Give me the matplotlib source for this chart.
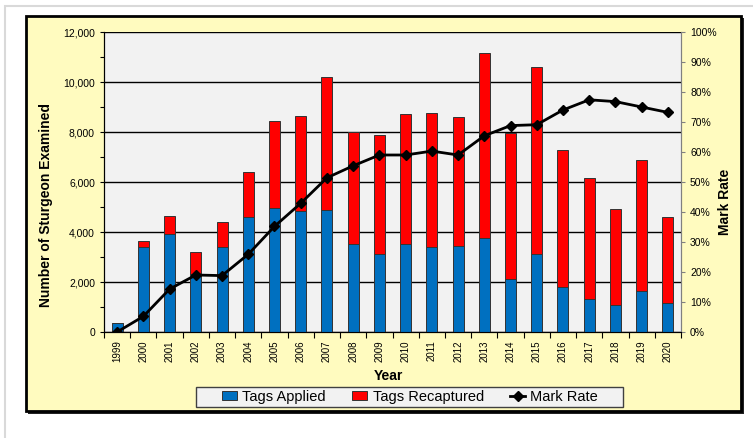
import numpy as np
import matplotlib.pyplot as plt
from matplotlib.patches import Rectangle, Patch
from matplotlib.lines import Line2D
from matplotlib.ticker import FuncFormatter, MultipleLocator

plt.rcParams['font.family'] = ['Liberation Sans', 'DejaVu Sans']

years = [str(y) for y in range(1999, 2021)]
tags_applied = [360, 3410, 3910, 2340, 3390, 4590, 4950, 4840, 4880, 3510, 3130,
                3510, 3400, 3450, 3750, 2130, 3110, 1790, 1310, 1070, 1640, 1160]
total_examined = [360, 3640, 4640, 3190, 4390, 6390, 8430, 8640, 10190, 8010, 7870,
                  8710, 8750, 8590, 11170, 7970, 10590, 7270, 6160, 4920, 6870, 4600]
tags_recaptured = [t - a for t, a in zip(total_examined, tags_applied)]
mark_rate = [0.0, 5.2, 14.3, 19.0, 18.8, 25.9, 35.2, 42.9, 51.4, 55.4, 59.0,
             59.0, 60.3, 59.0, 65.4, 68.8, 69.1, 74.0, 77.4, 76.8, 75.0, 73.2]

blue = '#0070C0'
red = '#FF0000'

fig = plt.figure(figsize=(7.53, 4.38), dpi=100)
W, H = 753, 438

def frect(x0, y0, x1, y1, **kw):
    # rectangle in pixel coords measured from the top-left corner
    r = Rectangle((x0 / W, (H - y1) / H), (x1 - x0) / W, (y1 - y0) / H,
                  transform=fig.transFigure, **kw)
    fig.patches.append(r)
    return r

# outer light frame, shadow and yellow chart area
frect(5, 6, 800, 480, facecolor='white', edgecolor='#D9D9D9', lw=1.5, zorder=-4)
frect(28, 18, 744, 414, facecolor='#222222', edgecolor='none', zorder=-3)
frect(26, 16, 741, 411, facecolor='#FFFBBF', edgecolor='black', lw=2, zorder=-2)
# legend box
frect(196, 387, 623, 407, facecolor='#F2F2F2', edgecolor='#404040', lw=1, zorder=-1)

ax = fig.add_axes([104 / W, (H - 332) / H, 577 / W, 300 / H])
ax.set_facecolor('#F2F2F2')
x = np.arange(len(years))
w = 0.42
ax.bar(x, tags_applied, w, color=blue, edgecolor='#333333', lw=0.7, zorder=3)
ax.bar(x, tags_recaptured, w, bottom=tags_applied, color=red, edgecolor='#333333', lw=0.7, zorder=3)

ax.set_xlim(-0.5, len(years) - 0.5)
ax.set_ylim(0, 12000)
ax.yaxis.set_major_locator(MultipleLocator(2000))
ax.yaxis.set_minor_locator(MultipleLocator(1000))
ax.yaxis.set_major_formatter(FuncFormatter(lambda v, p: f'{int(v):,}'))
ax.grid(axis='y', which='major', color='black', lw=1, zorder=1)
ax.set_xticks(x)
ax.set_xticklabels(years, rotation=90, fontsize=7)
ax.set_xticks(np.arange(-0.5, len(years), 1), minor=True)
ax.tick_params(axis='x', which='major', length=0, pad=6)
ax.tick_params(axis='x', which='minor', length=4, width=0.8)
ax.tick_params(axis='y', which='both', labelsize=7.5, length=3, width=0.8, colors='black')
ax.spines['top'].set_visible(False)
ax.spines['right'].set_color('#808080')
ax.set_ylabel('Number of Sturgeon Examined', fontsize=10, fontweight='bold')
ax.yaxis.set_label_coords(-0.0884, 0.423)
ax.set_xlabel('Year', fontsize=10, fontweight='bold')
ax.xaxis.set_label_coords(0.493, -0.123)

ax2 = ax.twinx()
ax2.plot(x, mark_rate, color='black', lw=2, marker='D', markersize=5, zorder=5)
ax2.set_ylim(0, 100)
ax2.yaxis.set_major_locator(MultipleLocator(10))
ax2.yaxis.set_major_formatter(FuncFormatter(lambda v, p: f'{int(v)}%'))
ax2.tick_params(axis='y', labelsize=7.5, length=3, width=0.8, color='#808080')
ax2.spines['right'].set_color('#808080')
ax2.spines['top'].set_visible(False)
ax2.set_ylabel('Mark Rate', fontsize=10, fontweight='bold')
ax2.yaxis.set_label_coords(1.0641, 0.433)

handles = [Patch(facecolor=blue, edgecolor='#333333', lw=0.7),
           Patch(facecolor=red, edgecolor='#333333', lw=0.7),
           Line2D([], [], color='black', lw=2, marker='D', markersize=5)]
leg = fig.legend(handles, ['Tags Applied', 'Tags Recaptured', 'Mark Rate'], ncol=3,
                 loc='center', bbox_to_anchor=(410 / W, (H - 397) / H), fontsize=10.5,
                 frameon=False, handlelength=1.05, handleheight=0.6, columnspacing=1.8,
                 borderpad=0.2, handletextpad=0.35)

fig.savefig('out.png', dpi=100)
